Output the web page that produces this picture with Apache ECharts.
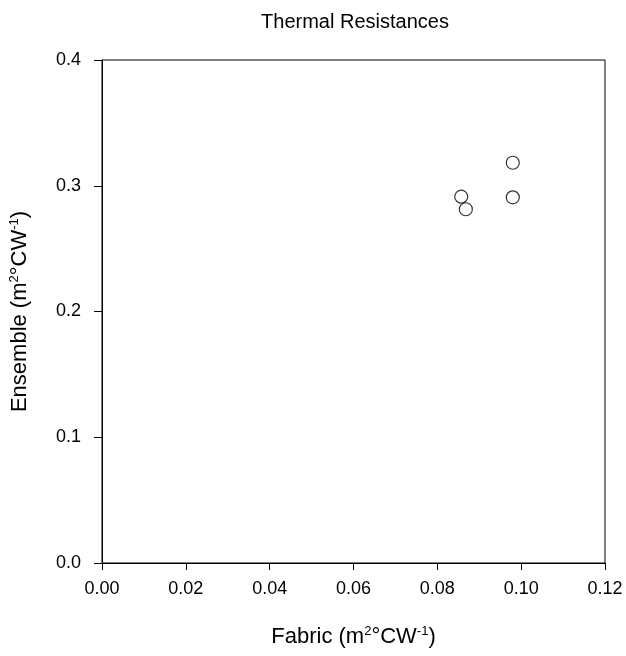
<!DOCTYPE html>
<html>
<head>
<meta charset="utf-8">
<script src="https://cdn.jsdelivr.net/npm/echarts@6/dist/echarts.min.js"></script>
<style>
  html, body { margin: 0; padding: 0; background: #fff; }
  #chart { width: 626px; height: 656px; }
</style>
</head>
<body>
<div id="chart"></div>
<script>
// fabric vs ensemble thermal resistance (m2°C/W)
var fabric = [0.0857, 0.0868, 0.0980, 0.0980];
var ensemble = [0.2913, 0.2813, 0.3183, 0.2908];
var xTicks = [0, 0.02, 0.04, 0.06, 0.08, 0.10, 0.12];
var yTicks = [0, 0.1, 0.2, 0.3, 0.4];

var points = [];
for (var i = 0; i < fabric.length; i++) {
  points.push([fabric[i], ensemble[i]]);
}

var font = "Liberation Sans, Arial, sans-serif";
var nameRich = {
  n: { fontSize: 22, fontFamily: font, color: "#000" },
  s: { fontSize: 13, fontFamily: font, color: "#000", verticalAlign: "top", padding: [0, 0, 11, 0] }
};

var myChart = echarts.init(document.getElementById("chart"));
myChart.setOption({
  animation: false,
  title: {
    text: "Thermal Resistances",
    left: 350,
    top: 7,
    textAlign: "center",
    textStyle: { fontFamily: font, fontSize: 20, fontWeight: "normal", color: "#000" }
  },
  grid: {
    left: 101,
    right: 21,
    top: 60,
    bottom: 93,
    show: true,
    borderColor: "#000",
    borderWidth: 1,
    backgroundColor: "#fff"
  },
  xAxis: {
    type: "value",
    min: xTicks[0],
    max: xTicks[xTicks.length - 1],
    interval: 0.02,
    splitLine: { show: false },
    axisLine: { onZero: false, lineStyle: { color: "#000" } },
    axisTick: { length: 7, lineStyle: { color: "#000" } },
    axisLabel: {
      fontFamily: font, fontSize: 18, color: "#000", margin: 17,
      formatter: function (v) { return v.toFixed(2); }
    },
    name: "{n|Fabric (m}{s|2}{n|°CW}{s|-1}{n|)}",
    nameLocation: "middle",
    nameGap: 62,
    nameTextStyle: { rich: nameRich }
  },
  yAxis: {
    type: "value",
    min: yTicks[0],
    max: yTicks[yTicks.length - 1],
    interval: 0.1,
    splitLine: { show: false },
    axisLine: { onZero: false, lineStyle: { color: "#000" } },
    axisTick: { length: 8, lineStyle: { color: "#000" } },
    axisLabel: {
      fontFamily: font, fontSize: 18, color: "#000", margin: 21,
      formatter: function (v) { return v.toFixed(1); }
    },
    name: "{n|Ensemble (m}{s|2}{n|°CW}{s|-1}{n|)}",
    nameLocation: "middle",
    nameRotate: 90,
    nameGap: 70,
    nameTextStyle: { rich: nameRich }
  },
  series: [{
    type: "scatter",
    data: points,
    symbol: "circle",
    symbolSize: 13,
    itemStyle: { color: "#fff", borderColor: "#000", borderWidth: 1.2 }
  }]
});
window.addEventListener("resize", function () { myChart.resize(); });
</script>
</body>
</html>
